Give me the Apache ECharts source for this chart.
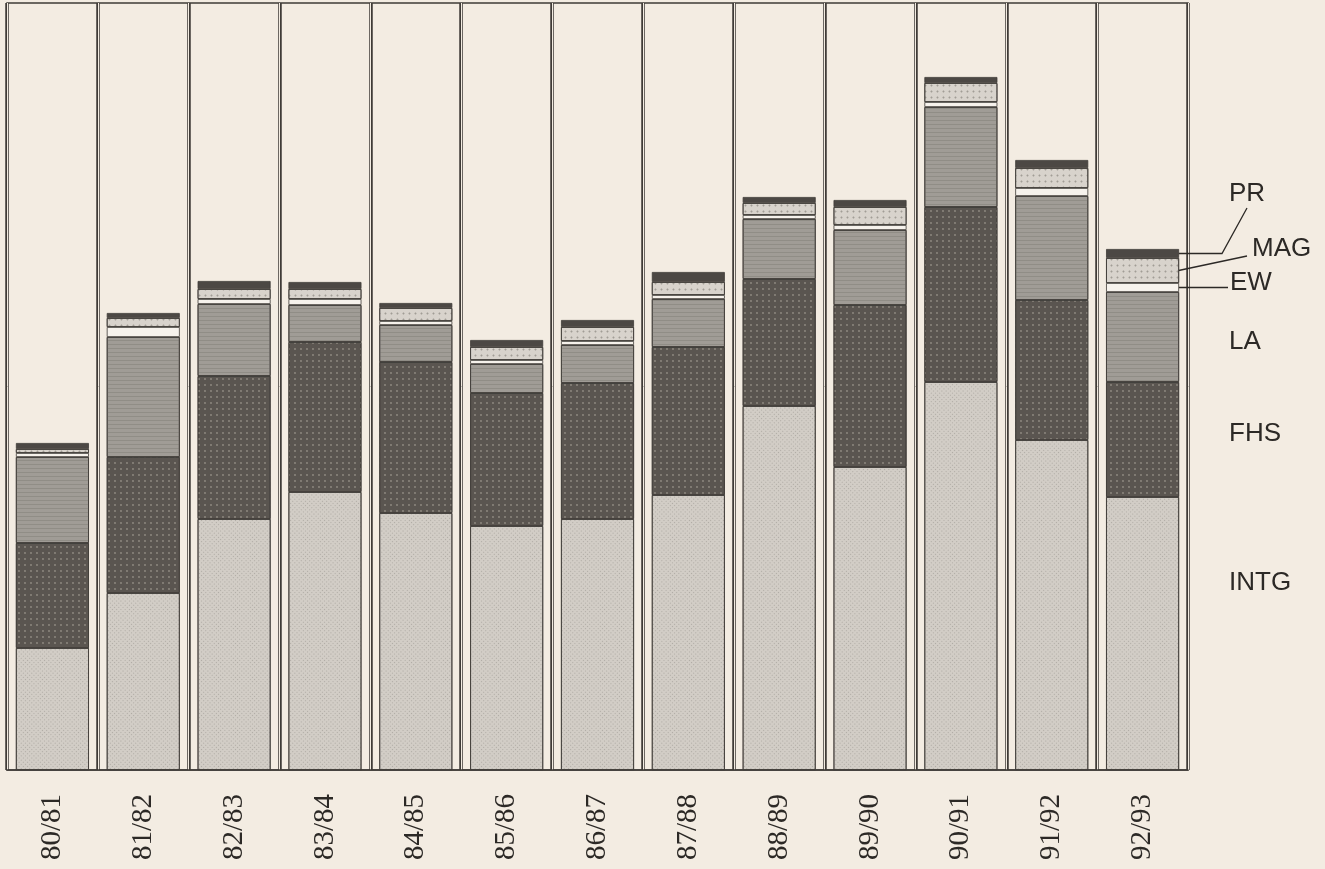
<!DOCTYPE html>
<html>
<head>
<meta charset="utf-8">
<script src="https://cdn.jsdelivr.net/npm/echarts@6/dist/echarts.min.js"></script>
<style>
  html, body { margin: 0; padding: 0; background: #f3ece2; }
  #main { width: 1325px; height: 869px; }
</style>
</head>
<body>
<div id="main"></div>
<script>
// years (academic sessions)
var years = ['80/81', '81/82', '82/83', '83/84', '84/85', '85/86', '86/87',
             '87/88', '88/89', '89/90', '90/91', '91/92', '92/93'];
// segment sizes, bottom to top (units, no scale printed)
var intg = [122, 177, 251, 278, 257, 244, 251, 275, 364, 303, 388, 330, 273];
var fhs  = [105, 136, 143, 150, 151, 133, 136, 148, 127, 162, 175, 140, 115];
var la   = [86, 120, 72, 37, 37, 29, 38, 48, 60, 75, 100, 104, 90];
var ew   = [4, 10, 5, 6, 4, 4, 4, 4, 4, 5, 5, 8, 9];
var mag  = [4, 9, 10, 10, 13, 13, 14, 13, 12, 18, 19, 20, 25];
var pr   = [6, 5, 8, 7, 5, 7, 7, 10, 6, 7, 6, 8, 9];

var bg = '#f3ece2';
var ink = '#3f3b37';

function seg(name, data, color, decal) {
    var s = {
        name: name,
        type: 'bar',
        stack: 'total',
        barWidth: 73,
        data: data,
        itemStyle: { color: color, borderColor: ink, borderWidth: 0.8 }
    };
    if (decal) s.itemStyle.decal = decal;
    return s;
}

var myChart = echarts.init(document.getElementById('main'));
var option = {
    backgroundColor: bg,
    animation: false,
    grid: {
        left: 7, right: 137, top: 3, bottom: 99,
        show: true, borderColor: ink, borderWidth: 1.5
    },
    xAxis: [
        {
            type: 'category',
            data: years,
            axisLine: { lineStyle: { color: ink, width: 1.5 } },
            axisTick: { show: false },
            splitLine: { show: true, lineStyle: { color: ink, width: 3.5 } },
            axisLabel: {
                rotate: 90,
                margin: 24,
                fontFamily: 'Liberation Serif',
                fontSize: 29,
                color: '#2c2926'
            }
        },
        {
            type: 'category',
            data: years,
            position: 'bottom',
            axisLine: { show: false },
            axisTick: { show: false },
            axisLabel: { show: false },
            splitLine: { show: true, lineStyle: { color: bg, width: 1 } }
        }
    ],
    yAxis: {
        type: 'value',
        min: 0,
        max: 767,
        show: false,
        splitLine: { show: false }
    },
    series: [
        seg('INTG', intg, '#d2cdc6', {
            symbol: 'rect', symbolSize: 1, color: 'rgba(110,105,100,0.35)',
            dashArrayX: [1, 2], dashArrayY: [1, 2], rotation: Math.PI / 4
        }),
        seg('FHS', fhs, '#5a5550', {
            symbol: 'circle', symbolSize: 0.9, color: 'rgba(215,208,198,0.45)',
            dashArrayX: [2, 4], dashArrayY: [2, 4]
        }),
        seg('LA', la, '#a09c96', {
            symbol: 'rect', symbolSize: 1, color: 'rgba(125,121,115,0.45)',
            dashArrayX: [1, 0], dashArrayY: [1, 3]
        }),
        seg('EW', ew, '#f6f2ec'),
        seg('MAG', mag, '#d8d3cc', {
            symbol: 'diamond', symbolSize: 0.8, color: 'rgba(95,90,85,0.45)',
            dashArrayX: [3, 3], dashArrayY: [3, 3]
        }),
        seg('PR', pr, '#4c4844')
    ]
};
myChart.setOption(option);

// labels and leader lines on the right, tied to the last bar
var last = years.length - 1;
function midY(bottom, size) {
    return myChart.convertToPixel({ yAxisIndex: 0 }, bottom + size / 2);
}
var base = intg[last] + fhs[last] + la[last];
var ewY = midY(base, ew[last]);
var magY = midY(base + ew[last], mag[last]);
var prY = midY(base + ew[last] + mag[last], pr[last]);
var barRight = myChart.convertToPixel({ xAxisIndex: 0 }, years[last]) + 36;

var lineStyle = { stroke: '#2c2926', lineWidth: 1.3 };
function label(text, x, y) {
    return {
        type: 'text', x: x, y: y,
        style: {
            text: text, fontFamily: 'Liberation Sans', fontSize: 26,
            fill: '#2c2926', verticalAlign: 'middle'
        }
    };
}
myChart.setOption({
    graphic: [
        { type: 'polyline', shape: { points: [[barRight, prY], [1222, prY], [1247, 208]] }, style: lineStyle },
        { type: 'line', shape: { x1: barRight, y1: magY, x2: 1247, y2: 256 }, style: lineStyle },
        { type: 'line', shape: { x1: barRight, y1: ewY, x2: 1228, y2: ewY }, style: lineStyle },
        label('PR', 1229, 194),
        label('MAG', 1252, 249),
        label('EW', 1230, 283),
        label('LA', 1229, 342),
        label('FHS', 1229, 434),
        label('INTG', 1229, 583)
    ]
});
</script>
</body>
</html>
